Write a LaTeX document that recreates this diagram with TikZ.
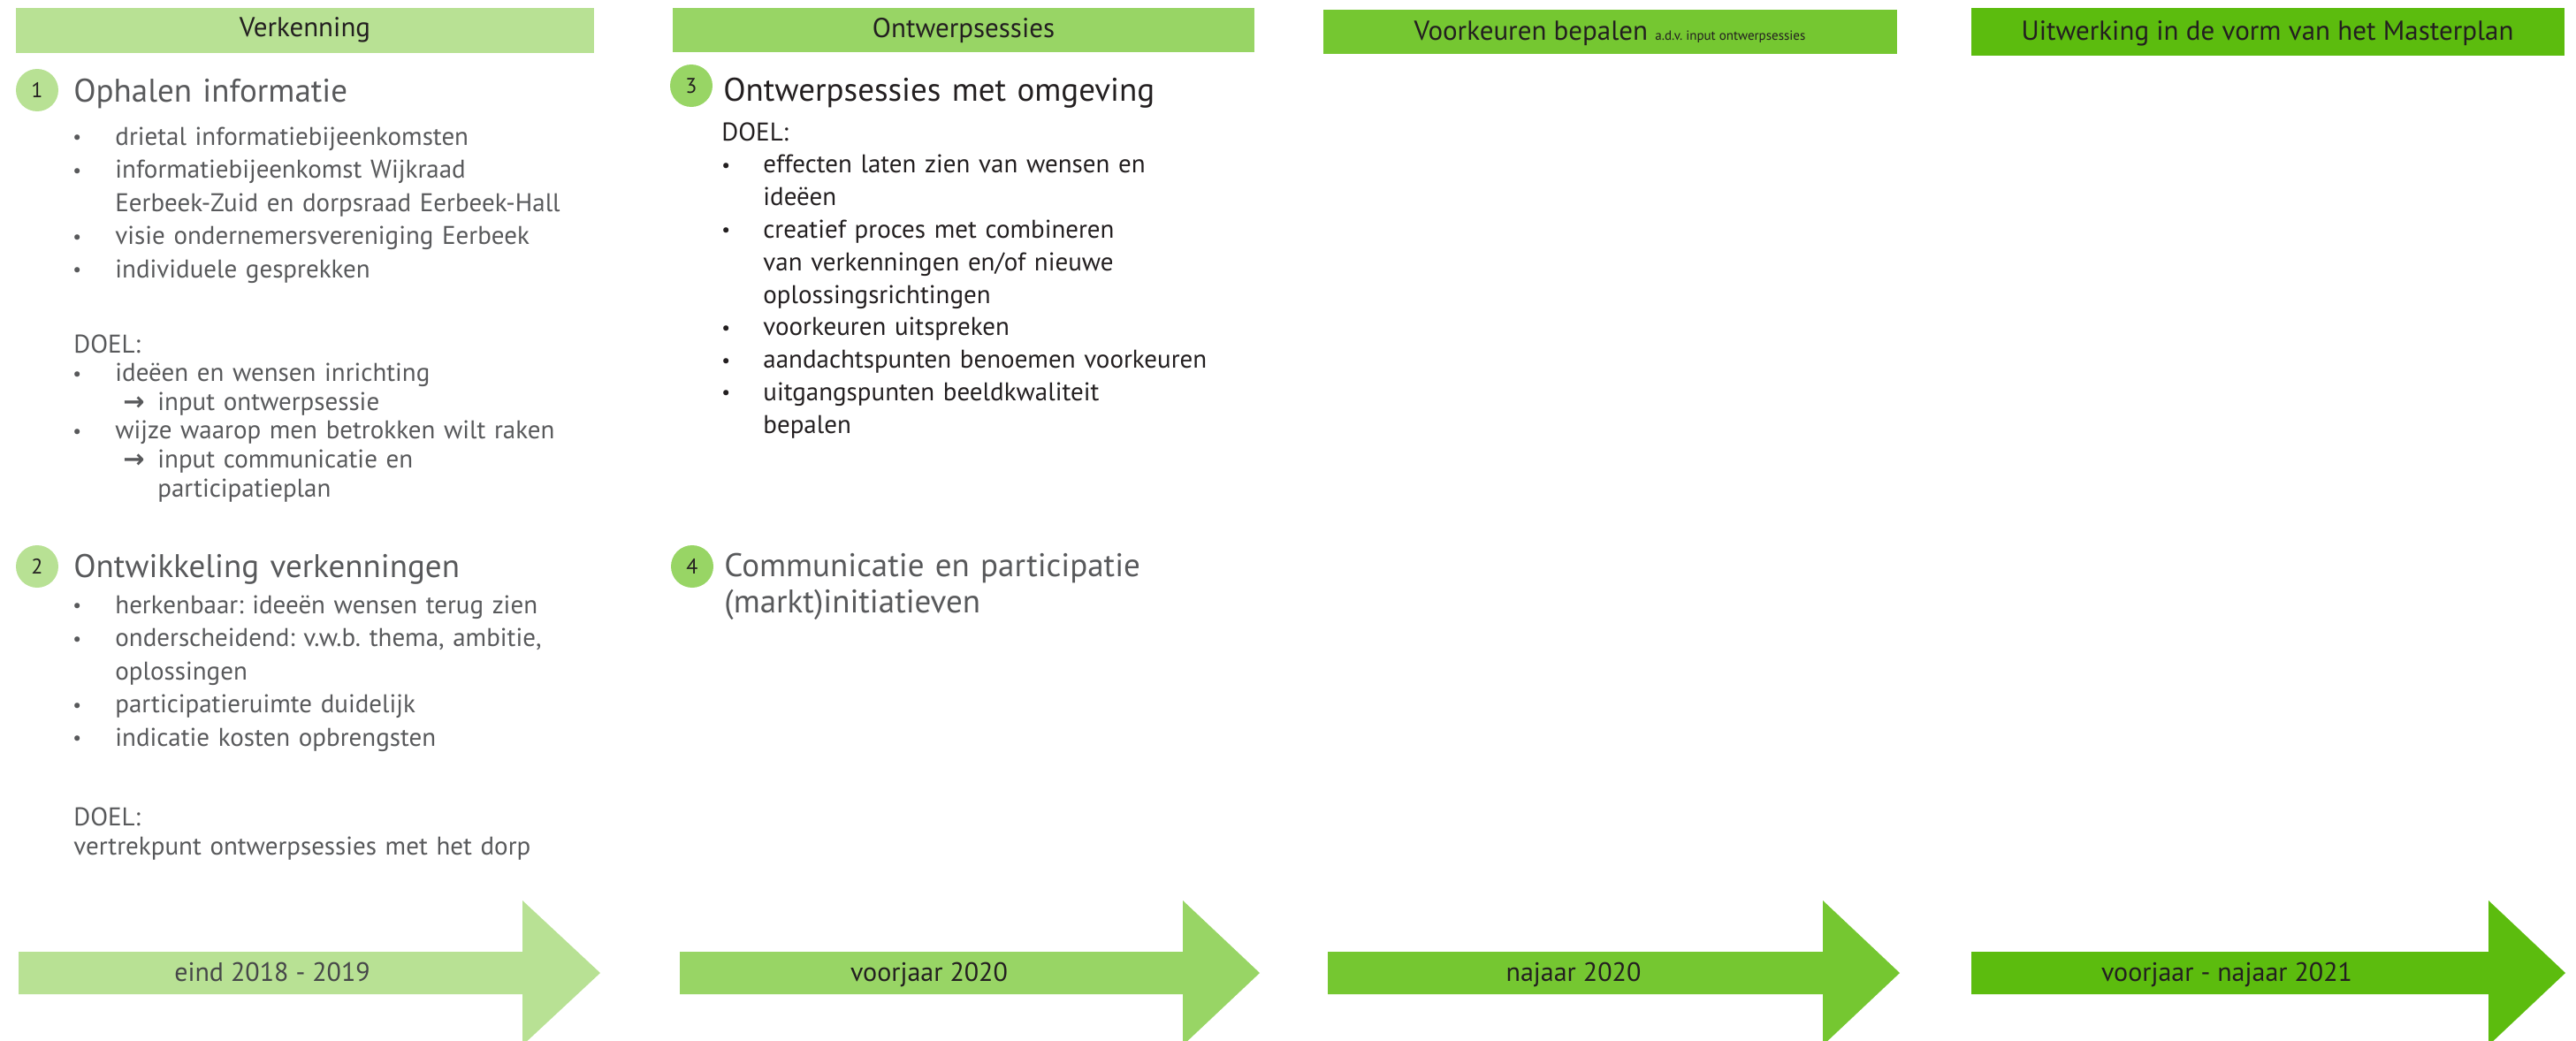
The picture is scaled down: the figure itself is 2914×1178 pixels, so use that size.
\documentclass[tikz,border=0pt]{standalone}
\usepackage{fontspec}
\setmainfont{PT Sans}
\newfontfamily\symfont{DejaVu Sans}
\definecolor{cA}{HTML}{B8E194}
\definecolor{cB}{HTML}{98D565}
\definecolor{cC}{HTML}{75C731}
\definecolor{cD}{HTML}{5CBC0E}
\definecolor{txtgray}{HTML}{58595B}
\definecolor{txtdark}{HTML}{231F20}
\newlength\bw
\setlength\bw{24pt}
\newcommand\bul{\makebox[\bw][l]{\raisebox{.1ex}{\scalebox{.75}{•}}}}
\newcommand\hang{\hspace*{\bw}}
\newcommand\arr{\hspace*{28.5pt}\makebox[19.5pt][l]{{\symfont\bfseries →}}}
\frenchspacing
\tikzset{
  hbar/.style={inner sep=0, anchor=north west},
  htext/.style={anchor=base, inner sep=0, text=txtdark, font=\fontsize{15.5}{18}\selectfont},
  numc/.style={circle, inner sep=0, minimum size=24pt, text=txtdark, font=\fontsize{12}{14}\selectfont},
  heading/.style={anchor=base west, inner sep=0, align=left, text width=330pt, text=txtgray, font=\fontsize{18.5}{20.5}\selectfont},
  blk/.style={anchor=base west, inner sep=0, align=left, text width=330pt, text=txtgray},
  alabel/.style={anchor=base, inner sep=0, text=txtdark, font=\fontsize{15}{18}\selectfont}
}
\begin{document}
\begin{tikzpicture}[x=0.5pt,y=-0.5pt]
\useasboundingbox (0,0) rectangle (2914,1178);
% header bars
\fill[cA] (18,9) rectangle (672,60);
\fill[cB] (761,9) rectangle (1419,59);
\fill[cC] (1497,11) rectangle (2146,61);
\fill[cD] (2230,9) rectangle (2901,63);
\node[htext] (h1) at (345,41) {Verkenning};
\node[htext] (h2) at (1090,42) {Ontwerpsessies};
\node[htext] (h3) at (1821,45) {Voorkeuren bepalen {\fontsize{7.5}{9}\selectfont a.d.v. input ontwerpsessies}};
\node[htext] (h4) at (2565,45) {Uitwerking in de vorm van het Masterplan};
% number circles
\node[numc, fill=cA] (n1) at (42,102) {1};
\node[numc, fill=cA] (n2) at (42,641) {2};
\node[numc, fill=cB] (n3) at (782,97) {3};
\node[numc, fill=cB] (n4) at (783,641) {4};
% headings
\node[heading] (t1) at (83,115) {Ophalen informatie};
\node[heading] (t2) at (83,653) {Ontwikkeling verkenningen};
\node[heading, text=txtdark] (t3) at (818,114) {Ontwerpsessies met omgeving};
\node[heading] (t4) at (819,652) {Communicatie en participatie\\(markt)initiatieven};
% section 1
\node[blk, font=\fontsize{14.5}{18.8}\selectfont] (b1a) at (82,164) {\bul drietal informatiebijeenkomsten\\
\bul informatiebijeenkomst Wijkraad\\
\hang Eerbeek-Zuid en dorpsraad Eerbeek-Hall\\
\bul visie ondernemersvereniging Eerbeek\\
\bul individuele gesprekken};
\node[blk, font=\fontsize{14.5}{16.3}\selectfont] (b1b) at (82,399) {\hspace*{0.5pt}DOEL:\\
\bul ideëen en wensen inrichting\\
\arr input ontwerpsessie\\
\bul wijze waarop men betrokken wilt raken\\
\arr input communicatie en\\
\hspace*{48pt}participatieplan};
% section 2
\node[blk, font=\fontsize{14.5}{18.75}\selectfont] (b2a) at (82,694) {\bul herkenbaar: ideeën wensen terug zien\\
\bul onderscheidend: v.w.b. thema, ambitie,\\
\hang oplossingen\\
\bul participatieruimte duidelijk\\
\bul indicatie kosten opbrengsten};
\node[blk, font=\fontsize{14.5}{16.5}\selectfont] (b2b) at (83,934) {DOEL:\\
vertrekpunt ontwerpsessies met het dorp};
% section 3
\node[blk, text=txtdark, font=\fontsize{14.5}{18.4}\selectfont] (b3) at (816,159) {\setlength\bw{23.5pt}DOEL:\\
\bul effecten laten zien van wensen en\\
\hang ideëen\\
\bul creatief proces met combineren\\
\hang van verkenningen en/of nieuwe\\
\hang oplossingsrichtingen\\
\bul voorkeuren uitspreken\\
\bul aandachtspunten benoemen voorkeuren\\
\bul uitgangspunten beeldkwaliteit\\
\hang bepalen};
% timeline arrows
\fill[cA] (21,1077) -- (591,1077) -- (591,1019) -- (679,1101) -- (591,1183) -- (591,1125) -- (21,1125) -- cycle;
\fill[cB] (769,1077) -- (1338,1077) -- (1338,1019) -- (1425,1101) -- (1338,1183) -- (1338,1125) -- (769,1125) -- cycle;
\fill[cC] (1502,1077) -- (2062,1077) -- (2062,1019) -- (2149,1101) -- (2062,1183) -- (2062,1125) -- (1502,1125) -- cycle;
\fill[cD] (2230,1077) -- (2815,1077) -- (2815,1019) -- (2902,1101) -- (2815,1183) -- (2815,1125) -- (2230,1125) -- cycle;
\node[alabel, text=txtgray!80!black] (a1) at (308,1110) {eind 2018 - 2019};
\node[alabel] (a2) at (1051,1110) {voorjaar 2020};
\node[alabel] (a3) at (1780,1110) {najaar 2020};
\node[alabel] (a4) at (2519,1110) {voorjaar - najaar 2021};
\end{tikzpicture}
\end{document}
